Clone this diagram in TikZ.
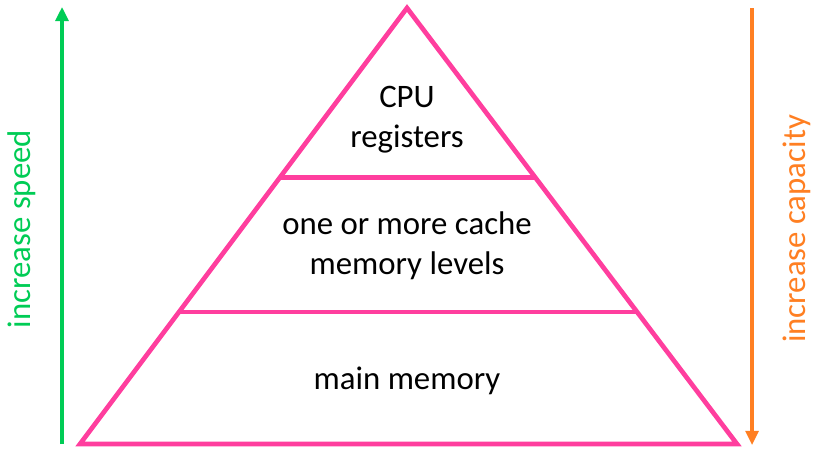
\documentclass[tikz,border=0pt]{standalone}
\usepackage{fontspec}
\setmainfont{Carlito}
\usetikzlibrary{arrows.meta,calc}
\definecolor{pyrpink}{HTML}{FF3E9E}
\definecolor{speedgreen}{HTML}{00CC55}
\definecolor{capaorange}{HTML}{FF7F22}
\tikzset{
  level/.style={draw=pyrpink, line width=4pt, line join=miter},
  label/.style={font=\fontsize{28pt}{34pt}\selectfont, align=center},
  side/.style={font=\fontsize{28pt}{34pt}\selectfont, rotate=90},
  updown/.style={line width=2.6pt, -{Triangle[width=11pt,length=12pt]}}
}
\begin{document}
\begin{tikzpicture}[x=0.03cm, y=-0.03cm]
  \useasboundingbox (0,0) rectangle (813,449);

  % pyramid corners
  \coordinate (apex) at (407,8);
  \coordinate (bl) at (80,444);
  \coordinate (br) at (737,444);
  \draw[level] (apex) -- (bl) -- (br) -- cycle;

  % level dividers
  \coordinate (cl) at ($(apex)!0.388!(bl)$);
  \coordinate (cr) at ($(apex)!0.388!(br)$);
  \coordinate (ml) at ($(apex)!0.697!(bl)$);
  \coordinate (mr) at ($(apex)!0.697!(br)$);
  \draw[level] (cl) -- (cr);
  \draw[level] (ml) -- (mr);

  \node[label] (cpu) at (407,120) {CPU\\registers};
  \node[label] (cache) at (407,246) {one or more cache\\memory levels};
  \node[label] (main) at (407,381) {main memory};

  % side arrows
  \coordinate (sbot) at (62,444);
  \coordinate (stop) at (62,7);
  \draw[updown, speedgreen] (sbot) -- (stop);
  \node[side, text=speedgreen] (speed) at (22,229) {increase speed};

  \coordinate (ctop) at (752,8);
  \coordinate (cbot) at (752,445);
  \draw[updown, capaorange] (ctop) -- (cbot);
  \node[side, text=capaorange] (capa) at (797,229) {increase capacity};
\end{tikzpicture}
\end{document}
